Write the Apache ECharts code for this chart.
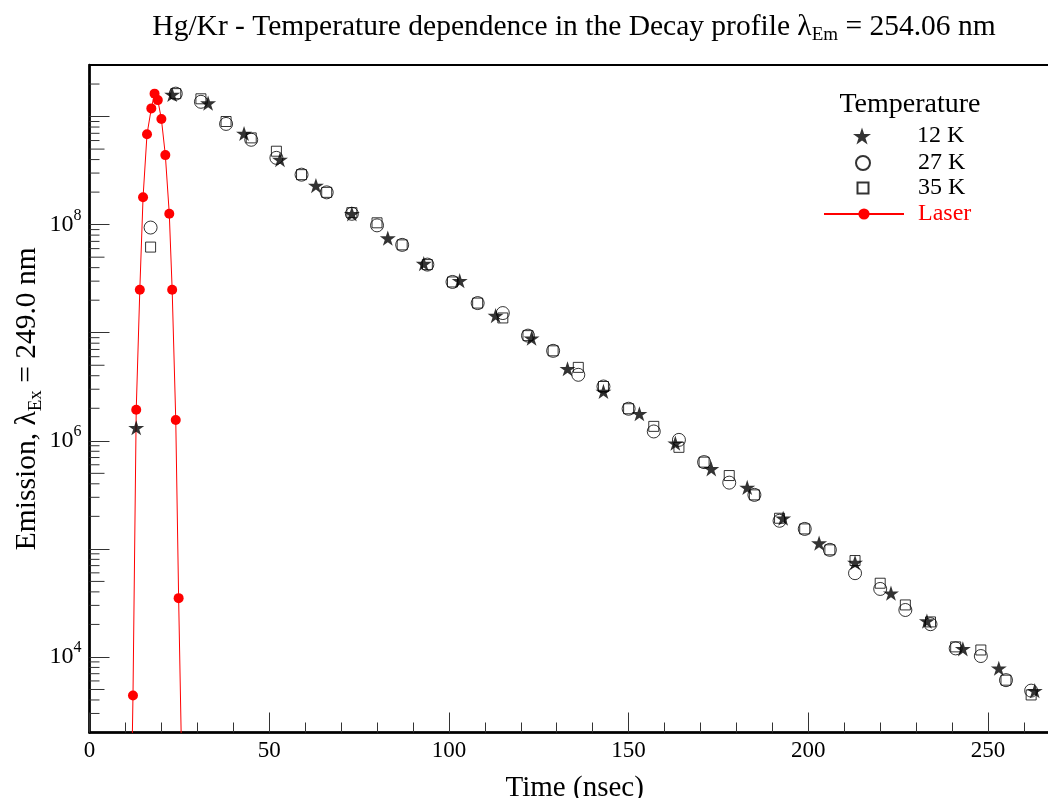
<!DOCTYPE html>
<html><head><meta charset="utf-8">
<script src="https://cdn.jsdelivr.net/npm/echarts@6/dist/echarts.min.js"></script>
<style>html,body{margin:0;padding:0;background:#fff}#c{width:1048px;height:798px}</style>
</head><body><div id="c"></div>
<script>
// ---- data ----
const laserTime  = [11.3, 12.1, 13.0, 14.0, 14.9, 16.0, 17.2, 18.1, 19.0, 20.0, 21.1, 22.2, 23.0, 24.0, 24.8, 26.0];
const laserValue = [100, 4.4e3, 1.94e6, 2.5e7, 1.79e8, 6.85e8, 1.19e9, 1.63e9, 1.42e9, 9.5e8, 4.4e8, 1.26e8, 2.5e7, 1.56e6, 3.5e4, 250];

const time12K  = [13, 23, 33, 43, 53, 63, 73, 83, 93, 103, 113, 123, 133, 143, 153, 163, 173, 183, 193, 203, 213, 223, 233, 243, 253, 263];
const value12K = [1.32e6, 1.6e9, 1.33e9, 6.97e8, 4.0e8, 2.3e8, 1.26e8, 7.5e7, 4.36e7, 3.03e7, 1.44e7, 8.9e6, 4.64e6, 2.86e6, 1.78e6, 9.5e5, 5.5e5, 3.7e5, 1.92e5, 1.13e5, 7.47e4, 3.89e4, 2.15e4, 1.19e4, 7.86e3, 4.87e3];

const time27K  = [17, 24, 31, 38, 45, 52, 59, 66, 73, 80, 87, 94, 101, 108, 115, 122, 129, 136, 143, 150, 157, 164, 171, 178, 185, 192, 199, 206, 213, 220, 227, 234, 241, 248, 255, 262];
const value27K = [9.4e7, 1.63e9, 1.37e9, 8.55e8, 6.1e8, 4.15e8, 2.9e8, 1.99e8, 1.26e8, 9.85e7, 6.5e7, 4.27e7, 2.95e7, 1.88e7, 1.52e7, 9.4e6, 6.8e6, 4.08e6, 3.18e6, 1.98e6, 1.22e6, 1.02e6, 6.35e5, 4.1e5, 3.16e5, 1.82e5, 1.53e5, 9.8e4, 5.96e4, 4.26e4, 2.72e4, 2.01e4, 1.2e4, 1.02e4, 6.1e3, 4.88e3];

const time35K  = [17, 24, 31, 38, 45, 52, 59, 66, 73, 80, 87, 94, 101, 108, 115, 122, 129, 136, 143, 150, 157, 164, 171, 178, 185, 192, 199, 206, 213, 220, 227, 234, 241, 248, 255, 262];
const value35K = [6.2e7, 1.63e9, 1.46e9, 9.0e8, 6.35e8, 4.78e8, 2.9e8, 1.99e8, 1.29e8, 1.04e8, 6.5e7, 4.27e7, 2.95e7, 1.88e7, 1.37e7, 9.4e6, 6.8e6, 4.78e6, 3.18e6, 1.98e6, 1.36e6, 8.7e5, 6.35e5, 4.77e5, 3.16e5, 1.92e5, 1.53e5, 9.8e4, 7.8e4, 4.81e4, 3.03e4, 2.11e4, 1.24e4, 1.16e4, 6.1e3, 4.45e3];

const seriesNames = ['12 K', '27 K', '35 K', 'Laser'];
const legendTitle = 'Temperature';
const xTickInterval = 50;
const xMin = 0, xMax = 270;
const yMin = 2000, yMax = 3e9;
const yDecades = [3, 4, 5, 6, 7, 8, 9];
const yMinorMultipliers = [2, 3, 4, 5, 6, 7, 8, 9];

// ---- build ----
const FONT = 'Liberation Serif';
const STAR = 'path://M50 0 L61.2 34.5 L97.6 34.5 L68.2 55.9 L79.4 90.5 L50 69.1 L20.6 90.5 L31.8 55.9 L2.4 34.5 L38.8 34.5 Z';
const pairs = (xs, ys) => xs.map((x, i) => [x, ys[i]]);

const minorTicks = [];
yDecades.forEach(d => yMinorMultipliers.forEach(m => {
  const v = m * Math.pow(10, d);
  if (v > yMin && v < yMax) minorTicks.push([xMin, v, m === 5 ? 1 : 0]);
}));

const chart = echarts.init(document.getElementById('c'));
chart.setOption({
  animation: false,
  backgroundColor: '#fff',
  textStyle: {fontFamily: FONT},
  title: [{
    text: 'Hg/Kr - Temperature dependence in the Decay profile λ{sub|Em} = 254.06 nm',
    left: 574, top: 9, textAlign: 'center', padding: 0,
    textStyle: {fontFamily: FONT, fontSize: 29.5, fontWeight: 'normal', color: '#000', lineHeight: 36,
      rich: {sub: {fontFamily: FONT, fontSize: 19, lineHeight: 18, verticalAlign: 'bottom', color: '#000'}}}
  }, {
    text: legendTitle, left: 910, top: 91, textAlign: 'center', padding: 0,
    textStyle: {fontFamily: FONT, fontSize: 28, fontWeight: 'normal', color: '#000'}
  }],
  legend: [
    {data: [seriesNames[0]], left: 853, top: 124, itemWidth: 18, itemHeight: 18, padding: 0,
      textStyle: {fontFamily: FONT, fontSize: 24, color: '#000', padding: [0, 0, 0, 41]}},
    {data: [seriesNames[1]], left: 855, top: 151, itemWidth: 14, itemHeight: 14, padding: 0,
      textStyle: {fontFamily: FONT, fontSize: 24, color: '#000', padding: [0, 0, 0, 43]}},
    {data: [seriesNames[2]], left: 856.5, top: 176, itemWidth: 11, itemHeight: 11, padding: 0,
      textStyle: {fontFamily: FONT, fontSize: 24, color: '#000', padding: [0, 0, 0, 44.5]}},
    {data: [seriesNames[3]], left: 823, top: 202, itemWidth: 80, itemHeight: 14, padding: 0,
      textStyle: {fontFamily: FONT, fontSize: 24, color: '#f00', padding: [0, 0, 0, 9]}}
  ],
  grid: {left: 89.5, top: 65, width: 970.4, height: 667.5, show: true, borderColor: '#000', borderWidth: 2,
    containLabel: false, outerBoundsMode: 'none'},
  xAxis: {
    type: 'value', min: xMin, max: xMax, interval: xTickInterval,
    name: 'Time (nsec)', nameLocation: 'middle', nameGap: 41,
    nameTextStyle: {fontFamily: FONT, fontSize: 29, color: '#000'},
    axisLine: {lineStyle: {color: '#000', width: 2.5}},
    axisTick: {inside: true, length: 20, lineStyle: {color: '#333', width: 1}},
    minorTick: {show: true, splitNumber: 5, length: 10, lineStyle: {color: '#333', width: 1}},
    splitLine: {show: false},
    axisLabel: {fontFamily: FONT, fontSize: 23, color: '#000', margin: 7, showMaxLabel: false}
  },
  yAxis: {
    type: 'log', logBase: 10, min: yMin, max: yMax,
    name: 'Emission, λ{sub|Ex} = 249.0 nm', nameLocation: 'middle', nameGap: 44, nameRotate: 90,
    nameMoveOverlap: false,
    nameTextStyle: {fontFamily: FONT, fontSize: 29.5, color: '#000', lineHeight: 36,
      rich: {sub: {fontFamily: FONT, fontSize: 19, lineHeight: 18, verticalAlign: 'bottom', color: '#000'}}},
    axisLine: {lineStyle: {color: '#000', width: 2.5}},
    axisTick: {inside: true, length: 20, lineStyle: {color: '#333', width: 1}},
    splitLine: {show: false},
    axisLabel: {
      margin: 8, showMinLabel: false, showMaxLabel: false,
      formatter: function (v) {
        const e = Math.log10(v), r = Math.round(e);
        if (Math.abs(e - r) > 1e-6 || r % 2 !== 0) return '';
        return '{b|10}{sup|' + r + '}';
      },
      rich: {
        b: {fontFamily: FONT, fontSize: 24, color: '#000', lineHeight: 34},
        sup: {fontFamily: FONT, fontSize: 16, color: '#000', lineHeight: 15, verticalAlign: 'top'}
      }
    }
  },
  series: [
    {type: 'custom', name: 'minorTicks', silent: true, clip: true, z: 1,
      data: minorTicks, encode: {x: 0, y: 1},
      renderItem: function (params, api) {
        const p = api.coord([api.value(0), api.value(1)]);
        const len = api.value(2) ? 15 : 10;
        return {type: 'line', shape: {x1: p[0], y1: p[1], x2: p[0] + len, y2: p[1]},
          style: {stroke: '#333', lineWidth: 1}};
      }},
    {type: 'line', name: seriesNames[3], data: pairs(laserTime, laserValue), clip: true, z: 2,
      symbol: 'circle', symbolSize: 10, showAllSymbol: true,
      lineStyle: {color: '#f00', width: 1}, itemStyle: {color: '#f00'}},
    {type: 'scatter', name: seriesNames[1], data: pairs(time27K, value27K), z: 3,
      symbol: 'circle', symbolSize: 13,
      itemStyle: {color: 'transparent', borderColor: '#000', borderWidth: 1}},
    {type: 'scatter', name: seriesNames[2], data: pairs(time35K, value35K), z: 3,
      symbol: 'rect', symbolSize: 10,
      itemStyle: {color: 'transparent', borderColor: '#000', borderWidth: 1}},
    {type: 'scatter', name: seriesNames[0], data: pairs(time12K, value12K), z: 4,
      symbol: STAR, symbolSize: 16, symbolKeepAspect: true,
      itemStyle: {color: '#000'}}
  ]
});
</script></body></html>
